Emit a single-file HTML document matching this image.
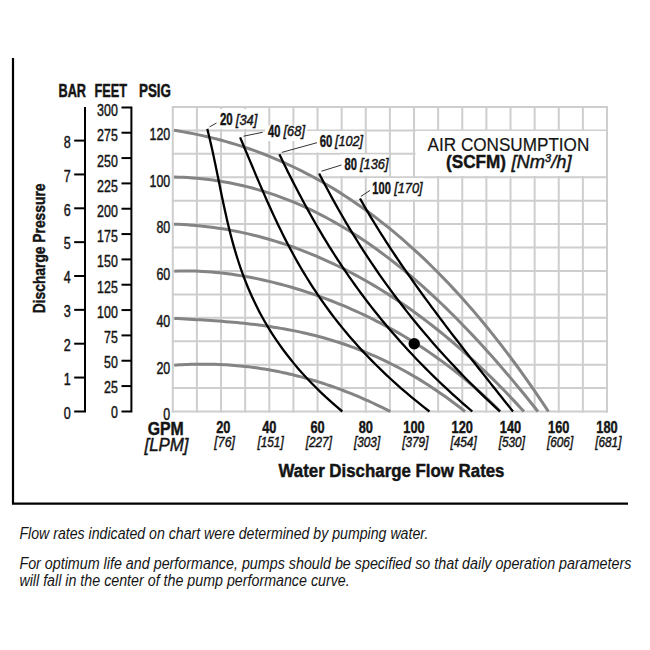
<!DOCTYPE html>
<html><head><meta charset="utf-8"><style>
html,body{margin:0;padding:0;background:#fff;width:650px;height:650px;overflow:hidden}
svg{display:block}
text{font-family:"Liberation Sans",sans-serif;fill:#141414}
</style></head><body>
<svg width="650" height="650" viewBox="0 0 650 650">
<line x1="172.80" y1="106.00" x2="172.80" y2="412.50" stroke="#cecece" stroke-width="2"/>
<line x1="196.92" y1="106.00" x2="196.92" y2="412.50" stroke="#cecece" stroke-width="2"/>
<line x1="221.04" y1="106.00" x2="221.04" y2="412.50" stroke="#cecece" stroke-width="2"/>
<line x1="245.17" y1="106.00" x2="245.17" y2="412.50" stroke="#cecece" stroke-width="2"/>
<line x1="269.29" y1="106.00" x2="269.29" y2="412.50" stroke="#cecece" stroke-width="2"/>
<line x1="293.41" y1="106.00" x2="293.41" y2="412.50" stroke="#cecece" stroke-width="2"/>
<line x1="317.53" y1="106.00" x2="317.53" y2="412.50" stroke="#cecece" stroke-width="2"/>
<line x1="341.66" y1="106.00" x2="341.66" y2="412.50" stroke="#cecece" stroke-width="2"/>
<line x1="365.78" y1="106.00" x2="365.78" y2="412.50" stroke="#cecece" stroke-width="2"/>
<line x1="389.90" y1="106.00" x2="389.90" y2="412.50" stroke="#cecece" stroke-width="2"/>
<line x1="414.02" y1="106.00" x2="414.02" y2="412.50" stroke="#cecece" stroke-width="2"/>
<line x1="438.14" y1="106.00" x2="438.14" y2="412.50" stroke="#cecece" stroke-width="2"/>
<line x1="462.27" y1="106.00" x2="462.27" y2="412.50" stroke="#cecece" stroke-width="2"/>
<line x1="486.39" y1="106.00" x2="486.39" y2="412.50" stroke="#cecece" stroke-width="2"/>
<line x1="510.51" y1="106.00" x2="510.51" y2="412.50" stroke="#cecece" stroke-width="2"/>
<line x1="534.63" y1="106.00" x2="534.63" y2="412.50" stroke="#cecece" stroke-width="2"/>
<line x1="558.76" y1="106.00" x2="558.76" y2="412.50" stroke="#cecece" stroke-width="2"/>
<line x1="582.88" y1="106.00" x2="582.88" y2="412.50" stroke="#cecece" stroke-width="2"/>
<line x1="607.00" y1="106.00" x2="607.00" y2="412.50" stroke="#cecece" stroke-width="2"/>
<line x1="171.80" y1="411.50" x2="608.00" y2="411.50" stroke="#cecece" stroke-width="2"/>
<line x1="171.80" y1="388.08" x2="608.00" y2="388.08" stroke="#cecece" stroke-width="2"/>
<line x1="171.80" y1="364.65" x2="608.00" y2="364.65" stroke="#cecece" stroke-width="2"/>
<line x1="171.80" y1="341.23" x2="608.00" y2="341.23" stroke="#cecece" stroke-width="2"/>
<line x1="171.80" y1="317.81" x2="608.00" y2="317.81" stroke="#cecece" stroke-width="2"/>
<line x1="171.80" y1="294.38" x2="608.00" y2="294.38" stroke="#cecece" stroke-width="2"/>
<line x1="171.80" y1="270.96" x2="608.00" y2="270.96" stroke="#cecece" stroke-width="2"/>
<line x1="171.80" y1="247.54" x2="608.00" y2="247.54" stroke="#cecece" stroke-width="2"/>
<line x1="171.80" y1="224.12" x2="608.00" y2="224.12" stroke="#cecece" stroke-width="2"/>
<line x1="171.80" y1="200.69" x2="608.00" y2="200.69" stroke="#cecece" stroke-width="2"/>
<line x1="171.80" y1="177.27" x2="608.00" y2="177.27" stroke="#cecece" stroke-width="2"/>
<line x1="171.80" y1="153.85" x2="608.00" y2="153.85" stroke="#cecece" stroke-width="2"/>
<line x1="171.80" y1="130.42" x2="608.00" y2="130.42" stroke="#cecece" stroke-width="2"/>
<line x1="171.80" y1="107.00" x2="608.00" y2="107.00" stroke="#cecece" stroke-width="2"/>
<rect x="215" y="109" width="46" height="19.8" fill="#fff"/>
<rect x="265" y="125.5" width="42" height="15.5" fill="#fff"/>
<rect x="301" y="131" width="63" height="21.5" fill="#fff"/>
<rect x="340" y="154.5" width="49" height="21.5" fill="#fff"/>
<rect x="369" y="178" width="55" height="21.5" fill="#fff"/>
<rect x="415.5" y="131" width="190.5" height="45" fill="#fff"/>
<path d="M174.00 130.30 L178.74 131.06 L183.48 131.87 L188.22 132.73 L192.96 133.65 L197.70 134.62 L202.44 135.64 L207.18 136.72 L211.92 137.85 L216.66 139.04 L221.40 140.29 L226.14 141.60 L230.87 142.96 L235.61 144.39 L240.35 145.88 L245.09 147.42 L249.83 149.04 L254.57 150.71 L259.31 152.45 L264.05 154.25 L268.79 156.12 L273.53 158.06 L278.27 160.06 L283.01 162.13 L287.75 164.28 L292.49 166.49 L297.23 168.77 L301.97 171.12 L306.71 173.54 L311.45 176.04 L316.19 178.61 L320.93 181.26 L325.67 183.98 L330.41 186.78 L335.15 189.65 L339.89 192.61 L344.62 195.64 L349.36 198.75 L354.10 201.94 L358.84 205.21 L363.58 208.56 L368.32 212.00 L373.06 215.52 L377.80 219.12 L382.54 222.81 L387.28 226.59 L392.02 230.45 L396.76 234.39 L401.50 238.43 L406.24 242.56 L410.98 246.77 L415.72 251.08 L420.46 255.47 L425.20 259.96 L429.94 264.54 L434.68 269.22 L439.42 273.99 L444.16 278.85 L448.90 283.81 L453.63 288.87 L458.37 294.02 L463.11 299.28 L467.85 304.63 L472.59 310.08 L477.33 315.63 L482.07 321.28 L486.81 327.04 L491.55 332.90 L496.29 338.86 L501.03 344.93 L505.77 351.10 L510.51 357.38 L515.25 363.76 L519.99 370.25 L524.73 376.85 L529.47 383.56 L534.21 390.38 L538.95 397.31 L543.69 404.35 L548.43 411.51" fill="none" stroke="#848484" stroke-width="3"/>
<path d="M174.00 177.00 L178.61 177.13 L183.21 177.33 L187.82 177.58 L192.43 177.90 L197.04 178.28 L201.64 178.73 L206.25 179.24 L210.86 179.81 L215.46 180.45 L220.07 181.16 L224.68 181.94 L229.29 182.78 L233.89 183.70 L238.50 184.69 L243.11 185.74 L247.72 186.87 L252.32 188.07 L256.93 189.34 L261.54 190.69 L266.14 192.11 L270.75 193.61 L275.36 195.18 L279.97 196.82 L284.57 198.54 L289.18 200.34 L293.79 202.21 L298.39 204.16 L303.00 206.19 L307.61 208.30 L312.22 210.48 L316.82 212.74 L321.43 215.08 L326.04 217.50 L330.64 219.99 L335.25 222.57 L339.86 225.22 L344.47 227.96 L349.07 230.77 L353.68 233.66 L358.29 236.63 L362.90 239.68 L367.50 242.81 L372.11 246.02 L376.72 249.30 L381.32 252.67 L385.93 256.11 L390.54 259.64 L395.15 263.24 L399.75 266.92 L404.36 270.68 L408.97 274.51 L413.57 278.42 L418.18 282.41 L422.79 286.48 L427.40 290.62 L432.00 294.84 L436.61 299.13 L441.22 303.50 L445.82 307.95 L450.43 312.46 L455.04 317.05 L459.65 321.72 L464.25 326.46 L468.86 331.26 L473.47 336.14 L478.07 341.09 L482.68 346.11 L487.29 351.20 L491.90 356.36 L496.50 361.58 L501.11 366.87 L505.72 372.23 L510.33 377.65 L514.93 383.14 L519.54 388.69 L524.15 394.30 L528.75 399.98 L533.36 405.71 L537.97 411.51" fill="none" stroke="#848484" stroke-width="3"/>
<path d="M174.00 224.20 L178.43 224.35 L182.86 224.56 L187.29 224.82 L191.72 225.13 L196.15 225.50 L200.57 225.92 L205.00 226.40 L209.43 226.93 L213.86 227.51 L218.29 228.15 L222.72 228.84 L227.15 229.58 L231.58 230.38 L236.01 231.23 L240.44 232.14 L244.87 233.10 L249.29 234.11 L253.72 235.18 L258.15 236.30 L262.58 237.48 L267.01 238.71 L271.44 240.00 L275.87 241.34 L280.30 242.74 L284.73 244.19 L289.16 245.70 L293.59 247.26 L298.02 248.88 L302.44 250.56 L306.87 252.29 L311.30 254.07 L315.73 255.92 L320.16 257.82 L324.59 259.77 L329.02 261.79 L333.45 263.86 L337.88 265.99 L342.31 268.18 L346.74 270.42 L351.16 272.72 L355.59 275.09 L360.02 277.51 L364.45 279.99 L368.88 282.52 L373.31 285.12 L377.74 287.78 L382.17 290.50 L386.60 293.28 L391.03 296.12 L395.46 299.02 L399.88 301.99 L404.31 305.01 L408.74 308.10 L413.17 311.25 L417.60 314.46 L422.03 317.74 L426.46 321.08 L430.89 324.48 L435.32 327.95 L439.75 331.49 L444.18 335.08 L448.60 338.75 L453.03 342.48 L457.46 346.28 L461.89 350.14 L466.32 354.07 L470.75 358.07 L475.18 362.14 L479.61 366.27 L484.04 370.48 L488.47 374.75 L492.90 379.10 L497.33 383.51 L501.75 388.00 L506.18 392.56 L510.61 397.19 L515.04 401.89 L519.47 406.67 L523.90 411.52" fill="none" stroke="#848484" stroke-width="3"/>
<path d="M174.30 271.20 L178.43 271.07 L182.55 271.00 L186.68 270.98 L190.80 271.03 L194.93 271.12 L199.05 271.28 L203.18 271.48 L207.30 271.74 L211.43 272.05 L215.56 272.42 L219.68 272.83 L223.81 273.29 L227.93 273.80 L232.06 274.35 L236.18 274.96 L240.31 275.61 L244.43 276.30 L248.56 277.04 L252.69 277.83 L256.81 278.65 L260.94 279.52 L265.06 280.44 L269.19 281.39 L273.31 282.39 L277.44 283.43 L281.56 284.52 L285.69 285.64 L289.82 286.81 L293.94 288.01 L298.07 289.26 L302.19 290.55 L306.32 291.88 L310.44 293.25 L314.57 294.66 L318.69 296.12 L322.82 297.61 L326.95 299.15 L331.07 300.73 L335.20 302.36 L339.32 304.02 L343.45 305.73 L347.57 307.49 L351.70 309.28 L355.83 311.13 L359.95 313.01 L364.08 314.95 L368.20 316.93 L372.33 318.96 L376.45 321.04 L380.58 323.16 L384.70 325.34 L388.83 327.57 L392.96 329.85 L397.08 332.18 L401.21 334.57 L405.33 337.01 L409.46 339.51 L413.58 342.06 L417.71 344.68 L421.83 347.35 L425.96 350.09 L430.09 352.88 L434.21 355.74 L438.34 358.67 L442.46 361.66 L446.59 364.73 L450.71 367.86 L454.84 371.06 L458.96 374.34 L463.09 377.69 L467.22 381.12 L471.34 384.62 L475.47 388.21 L479.59 391.88 L483.72 395.63 L487.84 399.47 L491.97 403.39 L496.09 407.41 L500.22 411.52" fill="none" stroke="#848484" stroke-width="3"/>
<path d="M174.30 318.40 L177.98 318.60 L181.66 318.80 L185.34 319.00 L189.02 319.20 L192.70 319.41 L196.38 319.63 L200.06 319.85 L203.74 320.07 L207.42 320.31 L211.10 320.55 L214.78 320.80 L218.46 321.07 L222.14 321.35 L225.82 321.64 L229.50 321.95 L233.18 322.27 L236.86 322.61 L240.54 322.97 L244.22 323.34 L247.90 323.74 L251.58 324.16 L255.26 324.60 L258.94 325.06 L262.62 325.54 L266.30 326.05 L269.98 326.59 L273.66 327.15 L277.34 327.74 L281.02 328.36 L284.70 329.01 L288.38 329.68 L292.06 330.39 L295.74 331.13 L299.42 331.90 L303.10 332.71 L306.78 333.55 L310.46 334.42 L314.14 335.33 L317.82 336.28 L321.50 337.26 L325.18 338.29 L328.86 339.35 L332.54 340.45 L336.22 341.59 L339.90 342.77 L343.59 344.00 L347.27 345.26 L350.95 346.57 L354.63 347.92 L358.31 349.32 L361.99 350.76 L365.67 352.25 L369.35 353.78 L373.03 355.36 L376.71 356.99 L380.39 358.66 L384.07 360.39 L387.75 362.16 L391.43 363.98 L395.11 365.85 L398.79 367.77 L402.47 369.75 L406.15 371.77 L409.83 373.85 L413.51 375.98 L417.19 378.16 L420.87 380.39 L424.55 382.68 L428.23 385.03 L431.91 387.42 L435.59 389.88 L439.27 392.39 L442.95 394.95 L446.63 397.57 L450.31 400.25 L453.99 402.98 L457.67 405.77 L461.35 408.62 L465.03 411.52" fill="none" stroke="#848484" stroke-width="3"/>
<path d="M174.30 365.20 L177.03 365.01 L179.77 364.84 L182.50 364.69 L185.24 364.56 L187.97 364.45 L190.71 364.35 L193.44 364.28 L196.17 364.22 L198.91 364.18 L201.64 364.16 L204.38 364.16 L207.11 364.18 L209.85 364.21 L212.58 364.27 L215.32 364.35 L218.05 364.44 L220.78 364.56 L223.52 364.69 L226.25 364.84 L228.99 365.02 L231.72 365.21 L234.46 365.42 L237.19 365.66 L239.92 365.91 L242.66 366.18 L245.39 366.48 L248.13 366.79 L250.86 367.12 L253.60 367.48 L256.33 367.85 L259.07 368.25 L261.80 368.66 L264.53 369.10 L267.27 369.55 L270.00 370.03 L272.74 370.52 L275.47 371.04 L278.21 371.58 L280.94 372.14 L283.67 372.72 L286.41 373.32 L289.14 373.94 L291.88 374.58 L294.61 375.24 L297.35 375.93 L300.08 376.63 L302.82 377.35 L305.55 378.10 L308.28 378.87 L311.02 379.65 L313.75 380.46 L316.49 381.29 L319.22 382.14 L321.96 383.01 L324.69 383.90 L327.42 384.82 L330.16 385.75 L332.89 386.70 L335.63 387.68 L338.36 388.67 L341.10 389.69 L343.83 390.73 L346.57 391.78 L349.30 392.86 L352.03 393.96 L354.77 395.08 L357.50 396.22 L360.24 397.38 L362.97 398.57 L365.71 399.77 L368.44 400.99 L371.17 402.24 L373.91 403.50 L376.64 404.78 L379.38 406.09 L382.11 407.41 L384.85 408.76 L387.58 410.12 L390.32 411.51" fill="none" stroke="#848484" stroke-width="3"/>
<path d="M207.29 128.90 L208.48 133.69 L209.64 138.48 L210.75 143.27 L211.84 148.06 L212.89 152.85 L213.93 157.64 L214.94 162.43 L215.94 167.22 L216.92 172.01 L217.90 176.80 L218.87 181.59 L219.85 186.38 L220.83 191.17 L221.81 195.96 L222.81 200.75 L223.83 205.54 L224.87 210.33 L225.94 215.12 L227.03 219.91 L228.16 224.70 L229.32 229.49 L230.53 234.28 L231.79 239.07 L233.09 243.86 L234.45 248.65 L235.86 253.44 L237.34 258.23 L238.89 263.02 L240.50 267.81 L242.19 272.59 L243.96 277.38 L245.82 282.17 L247.76 286.96 L249.79 291.75 L251.91 296.54 L254.14 301.33 L256.47 306.12 L258.91 310.91 L261.46 315.70 L264.12 320.49 L266.91 325.28 L269.82 330.07 L272.86 334.86 L276.03 339.65 L279.33 344.44 L282.78 349.23 L286.37 354.02 L290.12 358.81 L294.01 363.60 L298.06 368.39 L302.28 373.18 L306.66 377.97 L311.20 382.76 L315.93 387.55 L320.83 392.34 L325.91 397.13 L331.18 401.92 L336.64 406.71 L342.29 411.50" fill="none" stroke="#000" stroke-width="2.3"/>
<path d="M240.10 137.40 L242.06 142.05 L244.02 146.69 L245.97 151.34 L247.91 155.98 L249.86 160.63 L251.80 165.27 L253.76 169.92 L255.71 174.57 L257.68 179.21 L259.66 183.86 L261.66 188.50 L263.68 193.15 L265.71 197.79 L267.77 202.44 L269.86 207.09 L271.98 211.73 L274.12 216.38 L276.31 221.02 L278.53 225.67 L280.79 230.32 L283.09 234.96 L285.44 239.61 L287.84 244.25 L290.29 248.90 L292.79 253.54 L295.35 258.19 L297.97 262.84 L300.65 267.48 L303.39 272.13 L306.21 276.77 L309.09 281.42 L312.05 286.06 L315.08 290.71 L318.19 295.36 L321.38 300.00 L324.66 304.65 L328.02 309.29 L331.47 313.94 L335.02 318.58 L338.66 323.23 L342.39 327.88 L346.23 332.52 L350.17 337.17 L354.22 341.81 L358.38 346.46 L362.64 351.11 L367.02 355.75 L371.52 360.40 L376.14 365.04 L380.88 369.69 L385.74 374.33 L390.74 378.98 L395.86 383.63 L401.12 388.27 L406.51 392.92 L412.04 397.56 L417.72 402.21 L423.54 406.85 L429.50 411.50" fill="none" stroke="#000" stroke-width="2.3"/>
<path d="M279.31 154.20 L281.42 158.56 L283.54 162.92 L285.68 167.28 L287.84 171.64 L290.03 176.01 L292.23 180.37 L294.46 184.73 L296.72 189.09 L299.00 193.45 L301.31 197.81 L303.64 202.17 L306.01 206.53 L308.41 210.89 L310.84 215.25 L313.30 219.62 L315.79 223.98 L318.33 228.34 L320.90 232.70 L323.50 237.06 L326.15 241.42 L328.83 245.78 L331.56 250.14 L334.33 254.50 L337.15 258.86 L340.00 263.23 L342.91 267.59 L345.86 271.95 L348.86 276.31 L351.91 280.67 L355.01 285.03 L358.16 289.39 L361.37 293.75 L364.63 298.11 L367.95 302.47 L371.32 306.84 L374.75 311.20 L378.24 315.56 L381.79 319.92 L385.40 324.28 L389.07 328.64 L392.81 333.00 L396.61 337.36 L400.48 341.72 L404.41 346.08 L408.42 350.45 L412.49 354.81 L416.63 359.17 L420.85 363.53 L425.14 367.89 L429.50 372.25 L433.94 376.61 L438.46 380.97 L443.05 385.33 L447.72 389.69 L452.47 394.06 L457.31 398.42 L462.22 402.78 L467.22 407.14 L472.31 411.50" fill="none" stroke="#000" stroke-width="2.3"/>
<path d="M319.10 173.40 L321.17 177.44 L323.26 181.47 L325.38 185.51 L327.52 189.54 L329.68 193.58 L331.88 197.61 L334.10 201.65 L336.34 205.68 L338.62 209.72 L340.92 213.76 L343.25 217.79 L345.62 221.83 L348.01 225.86 L350.43 229.90 L352.88 233.93 L355.37 237.97 L357.89 242.01 L360.44 246.04 L363.02 250.08 L365.64 254.11 L368.29 258.15 L370.98 262.18 L373.70 266.22 L376.46 270.25 L379.26 274.29 L382.09 278.33 L384.96 282.36 L387.87 286.40 L390.82 290.43 L393.81 294.47 L396.84 298.50 L399.90 302.54 L403.01 306.57 L406.16 310.61 L409.35 314.65 L412.59 318.68 L415.87 322.72 L419.19 326.75 L422.55 330.79 L425.96 334.82 L429.42 338.86 L432.92 342.89 L436.47 346.93 L440.07 350.97 L443.71 355.00 L447.40 359.04 L451.14 363.07 L454.93 367.11 L458.77 371.14 L462.65 375.18 L466.59 379.22 L470.58 383.25 L474.63 387.29 L478.72 391.32 L482.87 395.36 L487.07 399.39 L491.32 403.43 L495.63 407.46 L500.00 411.50" fill="none" stroke="#000" stroke-width="2.3"/>
<path d="M360.00 198.50 L362.04 202.11 L364.10 205.72 L366.19 209.33 L368.32 212.94 L370.46 216.55 L372.64 220.16 L374.84 223.77 L377.07 227.38 L379.32 230.99 L381.59 234.60 L383.89 238.21 L386.22 241.82 L388.57 245.43 L390.94 249.04 L393.33 252.65 L395.74 256.26 L398.18 259.87 L400.63 263.48 L403.11 267.09 L405.60 270.70 L408.12 274.31 L410.65 277.92 L413.20 281.53 L415.77 285.14 L418.36 288.75 L420.96 292.36 L423.58 295.97 L426.22 299.58 L428.87 303.19 L431.53 306.81 L434.21 310.42 L436.90 314.03 L439.61 317.64 L442.33 321.25 L445.06 324.86 L447.80 328.47 L450.56 332.08 L453.32 335.69 L456.10 339.30 L458.88 342.91 L461.68 346.52 L464.48 350.13 L467.29 353.74 L470.11 357.35 L472.94 360.96 L475.77 364.57 L478.61 368.18 L481.45 371.79 L484.31 375.40 L487.16 379.01 L490.02 382.62 L492.88 386.23 L495.75 389.84 L498.62 393.45 L501.49 397.06 L504.37 400.67 L507.24 404.28 L510.12 407.89 L513.00 411.50" fill="none" stroke="#000" stroke-width="2.3"/>
<line x1="209.6" y1="126.9" x2="216.5" y2="123" stroke="#333" stroke-width="1"/>
<line x1="243.5" y1="136.2" x2="262.7" y2="132.3" stroke="#333" stroke-width="1"/>
<line x1="281.8" y1="152.4" x2="317" y2="142.7" stroke="#333" stroke-width="1"/>
<line x1="321.5" y1="171.2" x2="341.5" y2="165" stroke="#333" stroke-width="1"/>
<line x1="360.8" y1="196.5" x2="370" y2="190.4" stroke="#333" stroke-width="1"/>
<circle cx="414.2" cy="343.7" r="5.7" fill="#000"/>
<text x="219.9" y="125.4" font-size="16" font-weight="bold" font-style="normal" text-anchor="start" textLength="12.8" lengthAdjust="spacingAndGlyphs" stroke="#141414" stroke-width="0.45">20</text>
<text x="235.8" y="124.80000000000001" font-size="14.6" font-weight="normal" font-style="italic" text-anchor="start" textLength="21.5" lengthAdjust="spacingAndGlyphs" stroke="#141414" stroke-width="0.45">[34]</text>
<text x="268.0" y="137.0" font-size="16" font-weight="bold" font-style="normal" text-anchor="start" textLength="12.4" lengthAdjust="spacingAndGlyphs" stroke="#141414" stroke-width="0.45">40</text>
<text x="283.5" y="136.4" font-size="14.6" font-weight="normal" font-style="italic" text-anchor="start" textLength="21.5" lengthAdjust="spacingAndGlyphs" stroke="#141414" stroke-width="0.45">[68]</text>
<text x="319.7" y="146.5" font-size="16" font-weight="bold" font-style="normal" text-anchor="start" textLength="12.6" lengthAdjust="spacingAndGlyphs" stroke="#141414" stroke-width="0.45">60</text>
<text x="335.0" y="145.9" font-size="14.6" font-weight="normal" font-style="italic" text-anchor="start" textLength="28" lengthAdjust="spacingAndGlyphs" stroke="#141414" stroke-width="0.45">[102]</text>
<text x="344.6" y="169.6" font-size="16" font-weight="bold" font-style="normal" text-anchor="start" textLength="12.4" lengthAdjust="spacingAndGlyphs" stroke="#141414" stroke-width="0.45">80</text>
<text x="360.0" y="169.0" font-size="14.6" font-weight="normal" font-style="italic" text-anchor="start" textLength="28.5" lengthAdjust="spacingAndGlyphs" stroke="#141414" stroke-width="0.45">[136]</text>
<text x="372.3" y="193.5" font-size="16" font-weight="bold" font-style="normal" text-anchor="start" textLength="18.5" lengthAdjust="spacingAndGlyphs" stroke="#141414" stroke-width="0.45">100</text>
<text x="394.2" y="192.9" font-size="14.6" font-weight="normal" font-style="italic" text-anchor="start" textLength="28.5" lengthAdjust="spacingAndGlyphs" stroke="#141414" stroke-width="0.45">[170]</text>
<text x="427.6" y="150.7" font-size="18.5" font-weight="normal" font-style="normal" text-anchor="start" textLength="161.7" lengthAdjust="spacingAndGlyphs" stroke="#141414" stroke-width="0.2">AIR CONSUMPTION</text>
<text x="446" y="168" font-size="18.5" font-weight="bold" font-style="normal" text-anchor="start" textLength="60" lengthAdjust="spacingAndGlyphs" stroke="#141414" stroke-width="0.45">(SCFM)</text>
<text x="511.5" y="168" font-size="18.5" font-weight="normal" font-style="italic" text-anchor="start" textLength="60" lengthAdjust="spacingAndGlyphs" stroke="#141414" stroke-width="0.45">[Nm<tspan font-size="11" dy="-6.5">3</tspan><tspan dy="6.5">/h]</tspan></text>
<text x="58.5" y="96.6" font-size="17.5" font-weight="bold" font-style="normal" text-anchor="start" textLength="27.5" lengthAdjust="spacingAndGlyphs" stroke="#141414" stroke-width="0.45">BAR</text>
<text x="94.5" y="96.6" font-size="17.5" font-weight="bold" font-style="normal" text-anchor="start" textLength="32.5" lengthAdjust="spacingAndGlyphs" stroke="#141414" stroke-width="0.45">FEET</text>
<text x="139" y="96.6" font-size="17.5" font-weight="bold" font-style="normal" text-anchor="start" textLength="32" lengthAdjust="spacingAndGlyphs" stroke="#141414" stroke-width="0.45">PSIG</text>
<path d="M74.2 411.4 H85 V107.1" fill="none" stroke="#000" stroke-width="2"/>
<path d="M121.5 107.4 H131.4 V411.4 H121.5" fill="none" stroke="#000" stroke-width="2"/>
<text x="70.8" y="418.67499999999995" font-size="16.5" font-weight="normal" font-style="normal" text-anchor="end" textLength="7" lengthAdjust="spacingAndGlyphs" stroke="#141414" stroke-width="0.45">0</text>
<line x1="74.2" y1="377.55" x2="85" y2="377.55" stroke="#000" stroke-width="2"/>
<text x="70.8" y="384.82499999999993" font-size="16.5" font-weight="normal" font-style="normal" text-anchor="end" textLength="7" lengthAdjust="spacingAndGlyphs" stroke="#141414" stroke-width="0.45">1</text>
<line x1="74.2" y1="343.70" x2="85" y2="343.70" stroke="#000" stroke-width="2"/>
<text x="70.8" y="350.97499999999997" font-size="16.5" font-weight="normal" font-style="normal" text-anchor="end" textLength="7" lengthAdjust="spacingAndGlyphs" stroke="#141414" stroke-width="0.45">2</text>
<line x1="74.2" y1="309.85" x2="85" y2="309.85" stroke="#000" stroke-width="2"/>
<text x="70.8" y="317.12499999999994" font-size="16.5" font-weight="normal" font-style="normal" text-anchor="end" textLength="7" lengthAdjust="spacingAndGlyphs" stroke="#141414" stroke-width="0.45">3</text>
<line x1="74.2" y1="276.00" x2="85" y2="276.00" stroke="#000" stroke-width="2"/>
<text x="70.8" y="283.275" font-size="16.5" font-weight="normal" font-style="normal" text-anchor="end" textLength="7" lengthAdjust="spacingAndGlyphs" stroke="#141414" stroke-width="0.45">4</text>
<line x1="74.2" y1="242.15" x2="85" y2="242.15" stroke="#000" stroke-width="2"/>
<text x="70.8" y="249.42499999999998" font-size="16.5" font-weight="normal" font-style="normal" text-anchor="end" textLength="7" lengthAdjust="spacingAndGlyphs" stroke="#141414" stroke-width="0.45">5</text>
<line x1="74.2" y1="208.30" x2="85" y2="208.30" stroke="#000" stroke-width="2"/>
<text x="70.8" y="215.57499999999996" font-size="16.5" font-weight="normal" font-style="normal" text-anchor="end" textLength="7" lengthAdjust="spacingAndGlyphs" stroke="#141414" stroke-width="0.45">6</text>
<line x1="74.2" y1="174.45" x2="85" y2="174.45" stroke="#000" stroke-width="2"/>
<text x="70.8" y="181.72499999999997" font-size="16.5" font-weight="normal" font-style="normal" text-anchor="end" textLength="7" lengthAdjust="spacingAndGlyphs" stroke="#141414" stroke-width="0.45">7</text>
<line x1="74.2" y1="140.60" x2="85" y2="140.60" stroke="#000" stroke-width="2"/>
<text x="70.8" y="147.87499999999997" font-size="16.5" font-weight="normal" font-style="normal" text-anchor="end" textLength="7" lengthAdjust="spacingAndGlyphs" stroke="#141414" stroke-width="0.45">8</text>
<text x="117.8" y="418.47499999999997" font-size="16.5" font-weight="normal" font-style="normal" text-anchor="end" textLength="6.9" lengthAdjust="spacingAndGlyphs" stroke="#141414" stroke-width="0.45">0</text>
<line x1="121.5" y1="386.07" x2="131.4" y2="386.07" stroke="#000" stroke-width="2"/>
<text x="117.8" y="393.29166666666663" font-size="16.5" font-weight="normal" font-style="normal" text-anchor="end" textLength="13.8" lengthAdjust="spacingAndGlyphs" stroke="#141414" stroke-width="0.45">25</text>
<line x1="121.5" y1="360.73" x2="131.4" y2="360.73" stroke="#000" stroke-width="2"/>
<text x="117.8" y="368.1083333333333" font-size="16.5" font-weight="normal" font-style="normal" text-anchor="end" textLength="13.8" lengthAdjust="spacingAndGlyphs" stroke="#141414" stroke-width="0.45">50</text>
<line x1="121.5" y1="335.40" x2="131.4" y2="335.40" stroke="#000" stroke-width="2"/>
<text x="117.8" y="342.92499999999995" font-size="16.5" font-weight="normal" font-style="normal" text-anchor="end" textLength="13.8" lengthAdjust="spacingAndGlyphs" stroke="#141414" stroke-width="0.45">75</text>
<line x1="121.5" y1="310.07" x2="131.4" y2="310.07" stroke="#000" stroke-width="2"/>
<text x="117.8" y="317.7416666666667" font-size="16.5" font-weight="normal" font-style="normal" text-anchor="end" textLength="20.700000000000003" lengthAdjust="spacingAndGlyphs" stroke="#141414" stroke-width="0.45">100</text>
<line x1="121.5" y1="284.73" x2="131.4" y2="284.73" stroke="#000" stroke-width="2"/>
<text x="117.8" y="292.55833333333334" font-size="16.5" font-weight="normal" font-style="normal" text-anchor="end" textLength="20.700000000000003" lengthAdjust="spacingAndGlyphs" stroke="#141414" stroke-width="0.45">125</text>
<line x1="121.5" y1="259.40" x2="131.4" y2="259.40" stroke="#000" stroke-width="2"/>
<text x="117.8" y="267.37499999999994" font-size="16.5" font-weight="normal" font-style="normal" text-anchor="end" textLength="20.700000000000003" lengthAdjust="spacingAndGlyphs" stroke="#141414" stroke-width="0.45">150</text>
<line x1="121.5" y1="234.07" x2="131.4" y2="234.07" stroke="#000" stroke-width="2"/>
<text x="117.8" y="242.1916666666667" font-size="16.5" font-weight="normal" font-style="normal" text-anchor="end" textLength="20.700000000000003" lengthAdjust="spacingAndGlyphs" stroke="#141414" stroke-width="0.45">175</text>
<line x1="121.5" y1="208.73" x2="131.4" y2="208.73" stroke="#000" stroke-width="2"/>
<text x="117.8" y="217.00833333333333" font-size="16.5" font-weight="normal" font-style="normal" text-anchor="end" textLength="20.700000000000003" lengthAdjust="spacingAndGlyphs" stroke="#141414" stroke-width="0.45">200</text>
<line x1="121.5" y1="183.40" x2="131.4" y2="183.40" stroke="#000" stroke-width="2"/>
<text x="117.8" y="191.825" font-size="16.5" font-weight="normal" font-style="normal" text-anchor="end" textLength="20.700000000000003" lengthAdjust="spacingAndGlyphs" stroke="#141414" stroke-width="0.45">225</text>
<line x1="121.5" y1="158.07" x2="131.4" y2="158.07" stroke="#000" stroke-width="2"/>
<text x="117.8" y="166.64166666666668" font-size="16.5" font-weight="normal" font-style="normal" text-anchor="end" textLength="20.700000000000003" lengthAdjust="spacingAndGlyphs" stroke="#141414" stroke-width="0.45">250</text>
<line x1="121.5" y1="132.73" x2="131.4" y2="132.73" stroke="#000" stroke-width="2"/>
<text x="117.8" y="141.45833333333337" font-size="16.5" font-weight="normal" font-style="normal" text-anchor="end" textLength="20.700000000000003" lengthAdjust="spacingAndGlyphs" stroke="#141414" stroke-width="0.45">275</text>
<text x="117.8" y="116.27499999999998" font-size="16.5" font-weight="normal" font-style="normal" text-anchor="end" textLength="20.700000000000003" lengthAdjust="spacingAndGlyphs" stroke="#141414" stroke-width="0.45">300</text>
<text x="170.2" y="419.575" font-size="16.5" font-weight="normal" font-style="normal" text-anchor="end" textLength="6.9" lengthAdjust="spacingAndGlyphs" stroke="#141414" stroke-width="0.45">0</text>
<text x="170.2" y="373.9288461538461" font-size="16.5" font-weight="normal" font-style="normal" text-anchor="end" textLength="13.8" lengthAdjust="spacingAndGlyphs" stroke="#141414" stroke-width="0.45">20</text>
<text x="170.2" y="327.0826923076923" font-size="16.5" font-weight="normal" font-style="normal" text-anchor="end" textLength="13.8" lengthAdjust="spacingAndGlyphs" stroke="#141414" stroke-width="0.45">40</text>
<text x="170.2" y="280.23653846153843" font-size="16.5" font-weight="normal" font-style="normal" text-anchor="end" textLength="13.8" lengthAdjust="spacingAndGlyphs" stroke="#141414" stroke-width="0.45">60</text>
<text x="170.2" y="233.39038461538462" font-size="16.5" font-weight="normal" font-style="normal" text-anchor="end" textLength="13.8" lengthAdjust="spacingAndGlyphs" stroke="#141414" stroke-width="0.45">80</text>
<text x="170.2" y="186.54423076923078" font-size="16.5" font-weight="normal" font-style="normal" text-anchor="end" textLength="20.700000000000003" lengthAdjust="spacingAndGlyphs" stroke="#141414" stroke-width="0.45">100</text>
<text x="170.2" y="139.6980769230769" font-size="16.5" font-weight="normal" font-style="normal" text-anchor="end" textLength="20.700000000000003" lengthAdjust="spacingAndGlyphs" stroke="#141414" stroke-width="0.45">120</text>
<text x="223.34444444444446" y="432.5" font-size="16.5" font-weight="bold" font-style="normal" text-anchor="middle" textLength="14.2" lengthAdjust="spacingAndGlyphs" stroke="#141414" stroke-width="0.45">20</text>
<text x="224.64444444444447" y="446.6" font-size="15" font-weight="normal" font-style="italic" text-anchor="middle" textLength="20.6" lengthAdjust="spacingAndGlyphs" stroke="#141414" stroke-width="0.45">[76]</text>
<text x="269.2888888888889" y="432.5" font-size="16.5" font-weight="bold" font-style="normal" text-anchor="middle" textLength="14.2" lengthAdjust="spacingAndGlyphs" stroke="#141414" stroke-width="0.45">40</text>
<text x="270.5888888888889" y="446.6" font-size="15" font-weight="normal" font-style="italic" text-anchor="middle" textLength="26.3" lengthAdjust="spacingAndGlyphs" stroke="#141414" stroke-width="0.45">[151]</text>
<text x="317.5333333333333" y="432.5" font-size="16.5" font-weight="bold" font-style="normal" text-anchor="middle" textLength="14.2" lengthAdjust="spacingAndGlyphs" stroke="#141414" stroke-width="0.45">60</text>
<text x="318.8333333333333" y="446.6" font-size="15" font-weight="normal" font-style="italic" text-anchor="middle" textLength="26.3" lengthAdjust="spacingAndGlyphs" stroke="#141414" stroke-width="0.45">[227]</text>
<text x="365.7777777777778" y="432.5" font-size="16.5" font-weight="bold" font-style="normal" text-anchor="middle" textLength="14.2" lengthAdjust="spacingAndGlyphs" stroke="#141414" stroke-width="0.45">80</text>
<text x="367.07777777777784" y="446.6" font-size="15" font-weight="normal" font-style="italic" text-anchor="middle" textLength="26.3" lengthAdjust="spacingAndGlyphs" stroke="#141414" stroke-width="0.45">[303]</text>
<text x="414.02222222222224" y="432.5" font-size="16.5" font-weight="bold" font-style="normal" text-anchor="middle" textLength="21.299999999999997" lengthAdjust="spacingAndGlyphs" stroke="#141414" stroke-width="0.45">100</text>
<text x="415.32222222222225" y="446.6" font-size="15" font-weight="normal" font-style="italic" text-anchor="middle" textLength="26.3" lengthAdjust="spacingAndGlyphs" stroke="#141414" stroke-width="0.45">[379]</text>
<text x="462.26666666666665" y="432.5" font-size="16.5" font-weight="bold" font-style="normal" text-anchor="middle" textLength="21.299999999999997" lengthAdjust="spacingAndGlyphs" stroke="#141414" stroke-width="0.45">120</text>
<text x="463.56666666666666" y="446.6" font-size="15" font-weight="normal" font-style="italic" text-anchor="middle" textLength="26.3" lengthAdjust="spacingAndGlyphs" stroke="#141414" stroke-width="0.45">[454]</text>
<text x="510.5111111111111" y="432.5" font-size="16.5" font-weight="bold" font-style="normal" text-anchor="middle" textLength="21.299999999999997" lengthAdjust="spacingAndGlyphs" stroke="#141414" stroke-width="0.45">140</text>
<text x="511.81111111111113" y="446.6" font-size="15" font-weight="normal" font-style="italic" text-anchor="middle" textLength="26.3" lengthAdjust="spacingAndGlyphs" stroke="#141414" stroke-width="0.45">[530]</text>
<text x="558.7555555555556" y="432.5" font-size="16.5" font-weight="bold" font-style="normal" text-anchor="middle" textLength="21.299999999999997" lengthAdjust="spacingAndGlyphs" stroke="#141414" stroke-width="0.45">160</text>
<text x="560.0555555555555" y="446.6" font-size="15" font-weight="normal" font-style="italic" text-anchor="middle" textLength="26.3" lengthAdjust="spacingAndGlyphs" stroke="#141414" stroke-width="0.45">[606]</text>
<text x="607.0" y="432.5" font-size="16.5" font-weight="bold" font-style="normal" text-anchor="middle" textLength="21.299999999999997" lengthAdjust="spacingAndGlyphs" stroke="#141414" stroke-width="0.45">180</text>
<text x="608.3" y="446.6" font-size="15" font-weight="normal" font-style="italic" text-anchor="middle" textLength="26.3" lengthAdjust="spacingAndGlyphs" stroke="#141414" stroke-width="0.45">[681]</text>
<text x="165.7" y="435.4" font-size="18" font-weight="bold" font-style="normal" text-anchor="middle" textLength="36" lengthAdjust="spacingAndGlyphs" stroke="#141414" stroke-width="0.45">GPM</text>
<text x="166.5" y="451.3" font-size="18" font-weight="normal" font-style="italic" text-anchor="middle" textLength="44" lengthAdjust="spacingAndGlyphs" stroke="#141414" stroke-width="0.45">[LPM]</text>
<text x="278.5" y="477" font-size="18" font-weight="bold" font-style="normal" text-anchor="start" textLength="226" lengthAdjust="spacingAndGlyphs" stroke="#141414" stroke-width="0.45">Water Discharge Flow Rates</text>
<text transform="translate(44.6 313.3) rotate(-90)" font-size="16" font-weight="bold" textLength="129.8" lengthAdjust="spacingAndGlyphs" stroke="#141414" stroke-width="0.45">Discharge Pressure</text>
<path d="M13 58 V503.7 H628" fill="none" stroke="#000" stroke-width="2.2"/>
<text x="19.4" y="538.5" font-size="17.4" font-weight="normal" font-style="italic" text-anchor="start" textLength="409" lengthAdjust="spacingAndGlyphs">Flow rates indicated on chart were determined by pumping water.</text>
<text x="19.4" y="568.6" font-size="17.4" font-weight="normal" font-style="italic" text-anchor="start" textLength="612" lengthAdjust="spacingAndGlyphs">For optimum life and performance, pumps should be specified so that daily operation parameters</text>
<text x="19.4" y="585.5" font-size="17.4" font-weight="normal" font-style="italic" text-anchor="start" textLength="330.3" lengthAdjust="spacingAndGlyphs">will fall in the center of the pump performance curve.</text>
</svg>
</body></html>
